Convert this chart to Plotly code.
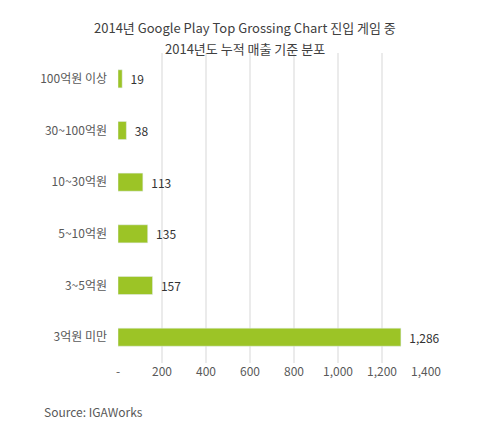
import plotly.graph_objects as go

categories = ["100억원 이상", "30~100억원", "10~30억원", "5~10억원", "3~5억원", "3억원 미만"]
games = [19, 38, 113, 135, 157, 1286]
tick_vals = [0, 200, 400, 600, 800, 1000, 1200, 1400]
tick_text = ["-", "200", "400", "600", "800", "1,000", "1,200", "1,400"]
title_lines = ["2014년 Google Play Top Grossing Chart 진입 게임 중", "2014년도 누적 매출 기준 분포"]

font = "Noto Sans CJK KR"

fig = go.Figure()
fig.add_trace(go.Bar(
    y=categories, x=games, orientation="h",
    marker=dict(color="#9cc426"),
    text=["\u00a0\u00a0" + f"{v:,}" for v in games], textposition="outside",
    textfont=dict(size=12, color="#333333"),
    cliponaxis=False,
))

fig.update_layout(
    width=500, height=422,
    margin=dict(l=110, r=82, t=45, b=67),
    plot_bgcolor="white", paper_bgcolor="white",
    font=dict(family=font, size=12, color="#555555"),
    showlegend=False,
    bargap=0.65,
)

# title as two annotations so the line spacing matches
for line, ypos in zip(title_lines, [1.081, 1.013]):
    fig.add_annotation(text=line, xref="paper", yref="paper",
                       x=0.412, y=ypos, xanchor="center", yanchor="middle",
                       showarrow=False, font=dict(size=13, color="#404040"))

fig.update_xaxes(range=[0, 1400], tickvals=tick_vals, ticktext=tick_text,
                 showgrid=True, gridcolor="#ebebeb", gridwidth=2,
                 zeroline=False, showline=False, ticks="", automargin=False,
                 tickfont=dict(size=12, color="#595959"))
fig.update_yaxes(autorange="reversed", showgrid=False, ticks="", automargin=False,
                 ticklabelstandoff=10,
                 tickfont=dict(size=12, color="#595959"))
fig.add_annotation(text="Source: IGAWorks", xref="paper", yref="paper",
                   x=-0.247, y=-0.123, xanchor="left", yanchor="top",
                   showarrow=False, font=dict(size=12, color="#595959"))

fig.write_html("out.html")
